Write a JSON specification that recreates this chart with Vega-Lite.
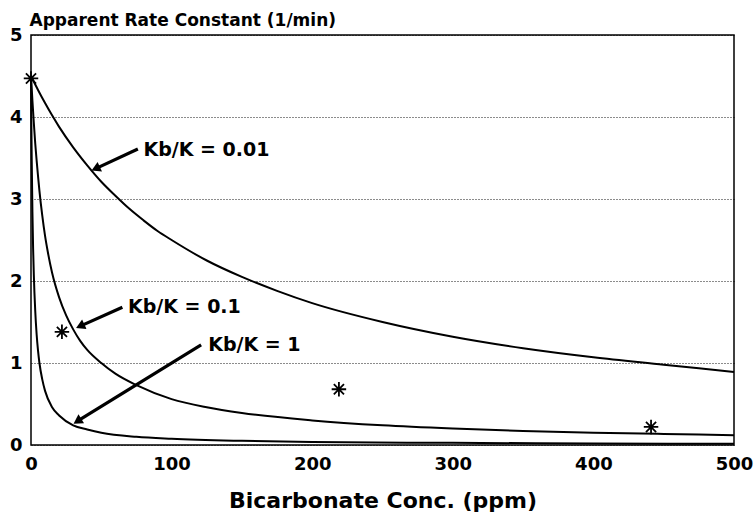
{
  "$schema": "https://vega.github.io/schema/vega-lite/v6.json",
  "width": 703,
  "height": 410,
  "autosize": {"type": "none"},
  "padding": {"left": 31, "top": 35, "right": 21, "bottom": 67},
  "background": "white",
  "config": {
    "view": {"stroke": "black", "strokeWidth": 1.5},
    "font": "DejaVu Sans"
  },
  "datasets": {
    "curves": [
      {"series": "0.01", "x": 0, "y": 4.5}, {"series": "0.01", "x": 5, "y": 4.33}, {"series": "0.01", "x": 10, "y": 4.17}, {"series": "0.01", "x": 15, "y": 4.02}, {"series": "0.01", "x": 20, "y": 3.88}, {"series": "0.01", "x": 30, "y": 3.63}, {"series": "0.01", "x": 40, "y": 3.41}, {"series": "0.01", "x": 50, "y": 3.21}, {"series": "0.01", "x": 60, "y": 3.04}, {"series": "0.01", "x": 70, "y": 2.88}, {"series": "0.01", "x": 80, "y": 2.74}, {"series": "0.01", "x": 90, "y": 2.61}, {"series": "0.01", "x": 100, "y": 2.5}, {"series": "0.01", "x": 125, "y": 2.25}, {"series": "0.01", "x": 150, "y": 2.05}, {"series": "0.01", "x": 175, "y": 1.88}, {"series": "0.01", "x": 200, "y": 1.73}, {"series": "0.01", "x": 250, "y": 1.5}, {"series": "0.01", "x": 300, "y": 1.32}, {"series": "0.01", "x": 350, "y": 1.18}, {"series": "0.01", "x": 400, "y": 1.07}, {"series": "0.01", "x": 450, "y": 0.98}, {"series": "0.01", "x": 500, "y": 0.89},
      {"series": "0.1", "x": 0, "y": 4.5}, {"series": "0.1", "x": 1, "y": 4.2}, {"series": "0.1", "x": 2, "y": 3.93}, {"series": "0.1", "x": 3, "y": 3.68}, {"series": "0.1", "x": 4, "y": 3.47}, {"series": "0.1", "x": 5, "y": 3.28}, {"series": "0.1", "x": 6, "y": 3.1}, {"series": "0.1", "x": 8, "y": 2.8}, {"series": "0.1", "x": 10, "y": 2.55}, {"series": "0.1", "x": 12, "y": 2.35}, {"series": "0.1", "x": 15, "y": 2.1}, {"series": "0.1", "x": 20, "y": 1.8}, {"series": "0.1", "x": 25, "y": 1.58}, {"series": "0.1", "x": 30, "y": 1.41}, {"series": "0.1", "x": 35, "y": 1.27}, {"series": "0.1", "x": 40, "y": 1.16}, {"series": "0.1", "x": 50, "y": 1.0}, {"series": "0.1", "x": 60, "y": 0.87}, {"series": "0.1", "x": 75, "y": 0.73}, {"series": "0.1", "x": 100, "y": 0.56}, {"series": "0.1", "x": 125, "y": 0.46}, {"series": "0.1", "x": 150, "y": 0.39}, {"series": "0.1", "x": 200, "y": 0.3}, {"series": "0.1", "x": 250, "y": 0.24}, {"series": "0.1", "x": 300, "y": 0.2}, {"series": "0.1", "x": 350, "y": 0.17}, {"series": "0.1", "x": 400, "y": 0.15}, {"series": "0.1", "x": 450, "y": 0.135}, {"series": "0.1", "x": 500, "y": 0.12},
      {"series": "1", "x": 0, "y": 4.5}, {"series": "1", "x": 0.25, "y": 3.93}, {"series": "1", "x": 0.5, "y": 3.5}, {"series": "1", "x": 1, "y": 2.85}, {"series": "1", "x": 1.5, "y": 2.4}, {"series": "1", "x": 2, "y": 2.08}, {"series": "1", "x": 3, "y": 1.64}, {"series": "1", "x": 4, "y": 1.35}, {"series": "1", "x": 5, "y": 1.15}, {"series": "1", "x": 6, "y": 1.0}, {"series": "1", "x": 8, "y": 0.8}, {"series": "1", "x": 10, "y": 0.66}, {"series": "1", "x": 15, "y": 0.46}, {"series": "1", "x": 20, "y": 0.36}, {"series": "1", "x": 30, "y": 0.24}, {"series": "1", "x": 40, "y": 0.19}, {"series": "1", "x": 50, "y": 0.15}, {"series": "1", "x": 75, "y": 0.1}, {"series": "1", "x": 100, "y": 0.076}, {"series": "1", "x": 150, "y": 0.051}, {"series": "1", "x": 200, "y": 0.038}, {"series": "1", "x": 300, "y": 0.026}, {"series": "1", "x": 400, "y": 0.019}, {"series": "1", "x": 500, "y": 0.015}
    ],
    "observed": [
      {"x": 0, "y": 4.47}, {"x": 22, "y": 1.38}, {"x": 219, "y": 0.68}, {"x": 441, "y": 0.22}
    ],
    "arrows": [
      {"label": "0.01", "x": 76, "y": 3.61, "x2": 46, "y2": 3.37},
      {"label": "0.1", "x": 65, "y": 1.68, "x2": 35, "y2": 1.45},
      {"label": "1", "x": 121, "y": 1.22, "x2": 33, "y2": 0.29}
    ],
    "labels": [
      {"x": 80, "y": 3.6, "text": "Kb/K = 0.01"},
      {"x": 69, "y": 1.68, "text": "Kb/K = 0.1"},
      {"x": 126, "y": 1.22, "text": "Kb/K = 1"}
    ]
  },
  "layer": [
    {
      "data": {"name": "curves"},
      "mark": {"type": "line", "color": "black", "strokeWidth": 2, "interpolate": "monotone"},
      "encoding": {
        "x": {"field": "x", "type": "quantitative", "scale": {"domain": [0, 500], "nice": false},
          "axis": {"values": [0, 100, 200, 300, 400, 500], "format": "d", "labelFlush": false, "title": "Bicarbonate Conc. (ppm)", "grid": false, "domain": false, "ticks": false,
            "labelFont": "DejaVu Sans", "labelFontWeight": "bold", "labelFontSize": 18, "labelColor": "black", "labelPadding": 10,
            "titleFont": "DejaVu Sans", "titleFontWeight": "bold", "titleFontSize": 22, "titleColor": "black", "titleBaseline": "alphabetic", "titleY": 62}},
        "y": {"field": "y", "type": "quantitative", "scale": {"domain": [0, 5], "nice": false},
          "axis": {"values": [0, 1, 2, 3, 4, 5], "format": "d", "title": "Apparent Rate Constant (1/min)", "grid": true, "gridColor": "black", "gridDash": [1, 2], "gridOpacity": 0.9, "gridWidth": 1,
            "domain": false, "ticks": false, "labelFont": "DejaVu Sans", "labelFontWeight": "bold", "labelFontSize": 18, "labelColor": "black", "labelPadding": 9,
            "titleFont": "DejaVu Sans", "titleFontWeight": "bold", "titleFontSize": 17, "titleColor": "black", "titleAngle": 0, "titleAlign": "left", "titleBaseline": "alphabetic", "titleX": -2, "titleY": -10}},
        "detail": {"field": "series", "type": "nominal"}
      }
    },
    {
      "data": {"name": "observed"},
      "mark": {"type": "point", "shape": "M0,-1V1M-1,0H1M-0.7,-0.7L0.7,0.7M-0.7,0.7L0.7,-0.7", "filled": false, "stroke": "black", "strokeWidth": 1.8, "size": 210, "opacity": 1},
      "encoding": {
        "x": {"field": "x", "type": "quantitative"},
        "y": {"field": "y", "type": "quantitative"}
      }
    },
    {
      "data": {"name": "arrows"},
      "mark": {"type": "rule", "color": "black", "strokeWidth": 3.2},
      "encoding": {
        "x": {"field": "x", "type": "quantitative"},
        "y": {"field": "y", "type": "quantitative"},
        "x2": {"field": "x2"},
        "y2": {"field": "y2"}
      }
    },
    {
      "data": {"name": "arrows"},
      "transform": [{"filter": "datum.label != '1'"}],
      "mark": {"type": "point", "shape": "triangle-up", "filled": true, "color": "black", "size": 110, "angle": 245, "opacity": 1},
      "encoding": {
        "x": {"field": "x2", "type": "quantitative"},
        "y": {"field": "y2", "type": "quantitative"}
      }
    },
    {
      "data": {"name": "arrows"},
      "transform": [{"filter": "datum.label == '1'"}],
      "mark": {"type": "point", "shape": "triangle-up", "filled": true, "color": "black", "size": 110, "angle": 238, "opacity": 1},
      "encoding": {
        "x": {"field": "x2", "type": "quantitative"},
        "y": {"field": "y2", "type": "quantitative"}
      }
    },
    {
      "data": {"name": "labels"},
      "mark": {"type": "text", "align": "left", "baseline": "middle", "font": "DejaVu Sans", "fontWeight": "bold", "fontSize": 19, "color": "black"},
      "encoding": {
        "x": {"field": "x", "type": "quantitative"},
        "y": {"field": "y", "type": "quantitative"},
        "text": {"field": "text"}
      }
    }
  ]
}
